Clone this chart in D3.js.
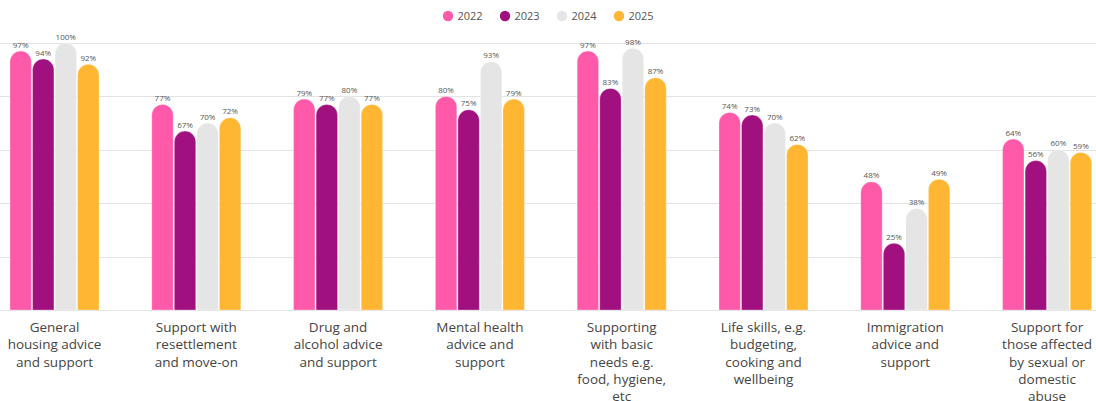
<!DOCTYPE html>
<html>
<head>
<meta charset="utf-8">
<script src="https://cdn.jsdelivr.net/npm/d3@7"></script>
<style>
  html, body { margin: 0; padding: 0; background: #ffffff; }
  svg { display: block; font-family: "Open Sans", "DejaVu Sans", sans-serif; }
</style>
</head>
<body>
<svg id="chart" width="1096" height="401"></svg>
<script>
// Support areas (line breaks mark where each label wraps)
const categories = [
  "General\nhousing advice\nand support",
  "Support with\nresettlement\nand move-on",
  "Drug and\nalcohol advice\nand support",
  "Mental health\nadvice and\nsupport",
  "Supporting\nwith basic\nneeds e.g.\nfood, hygiene,\netc",
  "Life skills, e.g.\nbudgeting,\ncooking and\nwellbeing",
  "Immigration\nadvice and\nsupport",
  "Support for\nthose affected\nby sexual or\ndomestic\nabuse"
];

const years = ["2022", "2023", "2024", "2025"];

// Share of services offering each type of support, by year (%)
const values2022 = [97, 77, 79, 80, 97, 74, 48, 64];
const values2023 = [94, 67, 77, 75, 83, 73, 25, 56];
const values2024 = [100, 70, 80, 93, 98, 70, 38, 60];
const values2025 = [92, 72, 77, 79, 87, 62, 49, 59];

const gridTicks = [0, 20, 40, 60, 80, 100];

const seriesValues = [values2022, values2023, values2024, values2025];
const colors = ["#ff5aa9", "#a0107f", "#e5e5e5", "#ffb632"];

const svg = d3.select("#chart");
const W = 1096;

const x = d3.scaleBand()
  .domain(categories)
  .range([-16.4, 1118])
  .paddingInner(0.372)
  .paddingOuter(0.186);

const xInner = d3.scaleBand()
  .domain(years)
  .range([0, x.bandwidth()])
  .paddingInner(0.05);

const y = d3.scaleLinear().domain([0, 100]).range([310, 43]);

// Horizontal gridlines
svg.append("g")
  .selectAll("line")
  .data(gridTicks)
  .join("line")
  .attr("x1", 0)
  .attr("x2", W)
  .attr("y1", d => Math.round(y(d)) + 0.5)
  .attr("y2", d => Math.round(y(d)) + 0.5)
  .attr("stroke", "#e3e3e3")
  .attr("stroke-width", 1);

// Bar with a fully rounded top and a flat base
function barPath(x0, w, yTop, yBase) {
  const r = Math.min(w / 2, yBase - yTop);
  return `M${x0},${yBase}` +
    `V${yTop + r}` +
    `A${r},${r} 0 0 1 ${x0 + w},${yTop + r}` +
    `V${yBase}Z`;
}

const rows = [];
categories.forEach((c, i) => {
  years.forEach((yr, j) => {
    rows.push({ cat: c, year: yr, value: seriesValues[j][i], color: colors[j] });
  });
});

const bars = svg.append("g");
bars.selectAll("path")
  .data(rows)
  .join("path")
  .attr("d", d => barPath(x(d.cat) + xInner(d.year), xInner.bandwidth(), y(d.value), y(0)))
  .attr("fill", d => d.color)
  .attr("stroke", "#ffffff")
  .attr("stroke-opacity", 0.5)
  .attr("stroke-width", 0.6);

// Value labels above bars
svg.append("g")
  .selectAll("text")
  .data(rows)
  .join("text")
  .attr("x", d => x(d.cat) + xInner(d.year) + xInner.bandwidth() / 2)
  .attr("y", d => y(d.value) - 3.5)
  .attr("text-anchor", "middle")
  .attr("font-size", 8)
  .attr("fill", "#555555")
  .text(d => d.value + "%");

// Category labels under each group
const catLabels = svg.append("g");
categories.forEach(c => {
  const t = catLabels.append("text")
    .attr("x", x(c) + x.bandwidth() / 2)
    .attr("y", 332)
    .attr("text-anchor", "middle")
    .attr("font-size", 13.5)
    .attr("fill", "#454545");
  c.split("\n").forEach((line, k) => {
    t.append("tspan")
      .attr("x", x(c) + x.bandwidth() / 2)
      .attr("dy", k === 0 ? 0 : 17.3)
      .text(line);
  });
});

// Legend
const legendX = [448, 505, 562, 619];
const legend = svg.append("g");
years.forEach((yr, j) => {
  legend.append("circle")
    .attr("cx", legendX[j])
    .attr("cy", 16)
    .attr("r", 5.2)
    .attr("fill", colors[j]);
  legend.append("text")
    .attr("x", legendX[j] + 9.5)
    .attr("y", 20)
    .attr("font-size", 11)
    .attr("fill", "#555555")
    .text(yr);
});
</script>
</body>
</html>
